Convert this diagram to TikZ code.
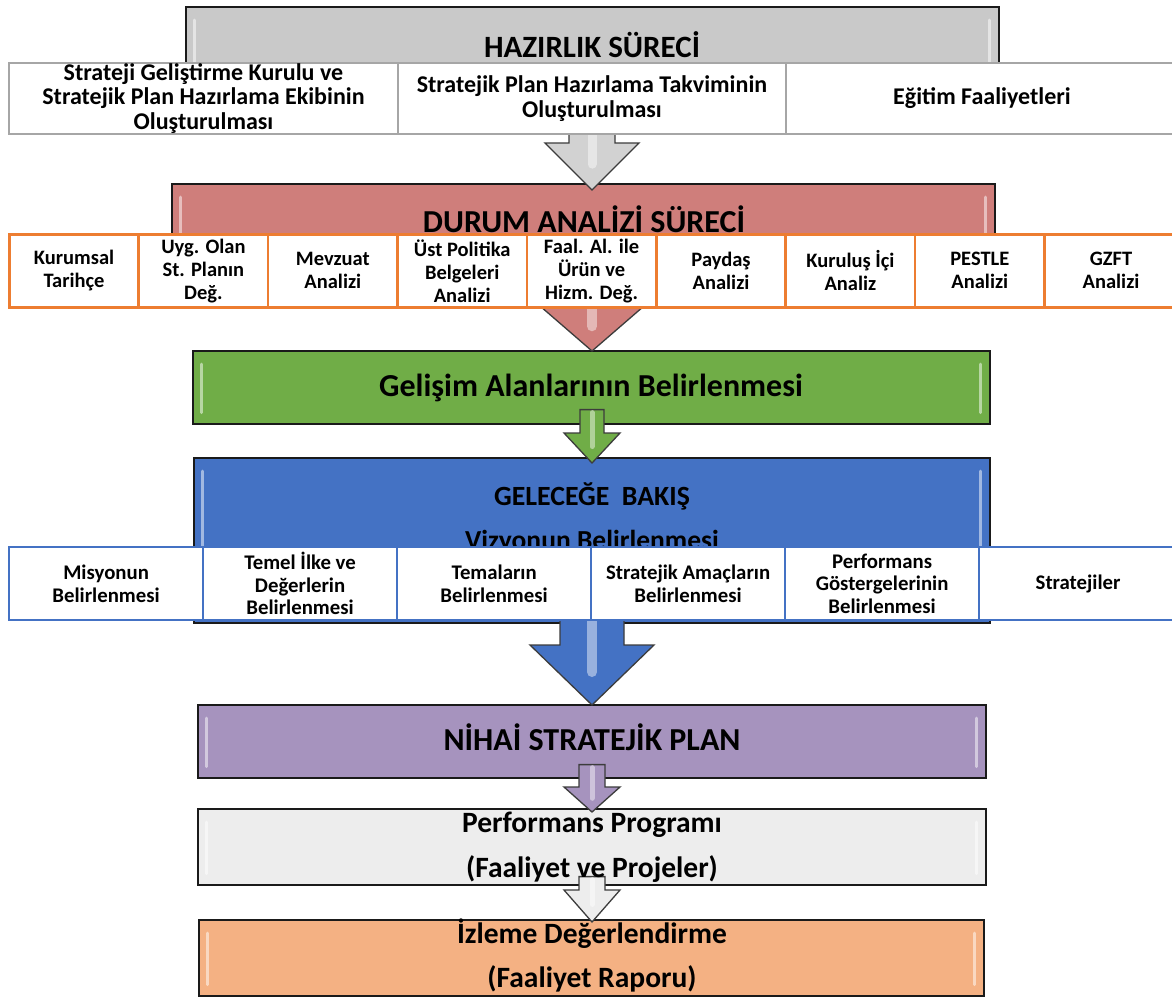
\documentclass[tikz,border=0pt]{standalone}
\usepackage{fontspec}
\setmainfont{Carlito}
\usetikzlibrary{calc}
\definecolor{hzgray}{HTML}{C9C9C9}
\definecolor{hzarrow}{HTML}{D2D2D2}
\definecolor{drred}{HTML}{CF7E7B}
\definecolor{grgreen}{HTML}{70AD47}
\definecolor{blblue}{HTML}{4472C4}
\definecolor{pupurple}{HTML}{A693BE}
\definecolor{whgray}{HTML}{EDEDED}
\definecolor{ororange}{HTML}{F4B183}
\definecolor{celltop}{HTML}{A6A6A6}
\definecolor{cellorange}{HTML}{ED7D31}
\definecolor{cellblue}{HTML}{4472C4}
\definecolor{boxedge}{HTML}{1A1A1A}
\tikzset{
 bigbox/.style={draw=boxedge, line width=1.6pt, inner sep=0pt, anchor=north west},
 bevel/.style={white, opacity=0.5, line width=3pt, line cap=round},
 barrow/.style={draw=boxedge!85, line width=1.3pt, line join=miter},
 stripe/.style={white, opacity=0.45, line cap=round},
 titletext/.style={font=\bfseries\fontsize{32}{36}\selectfont, inner sep=0pt, anchor=base},
 subtext/.style={font=\bfseries\fontsize{29.5}{33}\selectfont, inner sep=0pt, anchor=base},
 cell/.style={fill=white, inner sep=0pt, align=center, anchor=north west},
 topcell/.style={cell, draw=celltop, line width=2pt, minimum height=71pt, font=\bfseries\fontsize{24}{24.5}\selectfont},
 drcell/.style={cell, draw=cellorange, line width=2.6pt, minimum height=73pt, minimum width=129.4pt, font=\bfseries\fontsize{20.5}{23}\selectfont},
 blcell/.style={cell, draw=cellblue, line width=2.2pt, minimum height=73pt, minimum width=194pt, font=\bfseries\fontsize{20.8}{22.5}\selectfont},
}
\newcommand\bevelbox[1]{%
 \draw[bevel] ($(#1.north west)+(9,14)$) -- ($(#1.south west)+(9,-12)$);
 \draw[bevel] ($(#1.north east)+(-10,14)$) -- ($(#1.south east)+(-10,-12)$);}
\def\ax{592pt}
% #1 src, #2 dst, #3 shaft start above src.south, #4 tip below dst.north,
% #5 head length, #6 shaft half width, #7 head half width, #8 fill, #9 stripe width
\newcommand\blkarrow[9]{%
 \path[barrow, fill=#8] let \p1=(#1.south), \p2=(#2.north), \p3=(\ax,\y2-#4pt), \p4=(\ax,\y3+#5pt) in
  (\x3-#6pt,\y1+#3pt) -- (\x3+#6pt,\y1+#3pt) -- (\x3+#6pt,\y4) -- (\x3+#7pt,\y4) -- (\x3,\y3)
  -- (\x3-#7pt,\y4) -- (\x3-#6pt,\y4) -- cycle;
 \draw[stripe, line width=#9pt] let \p1=(#1.south), \p2=(#2.north), \p3=(\ax,\y2-#4pt) in
  (\x3,\y1+#3pt-3pt) -- (\x3,\y3+#5pt*0.55);}
\begin{document}
\begin{tikzpicture}[x=1pt,y=-1pt]
\useasboundingbox (0,0) rectangle (1172,996);
\fill[white] (0,0) rectangle (1172,996);
% big boxes
\node[bigbox, fill=hzgray, minimum width=813pt, minimum height=119pt] (hz) at (185,6) {};
\node[bigbox, fill=drred, minimum width=823pt, minimum height=107pt] (dr) at (171,183) {};
\node[bigbox, fill=grgreen, minimum width=797pt, minimum height=73pt] (gr) at (192,350) {};
\node[bigbox, fill=blblue, minimum width=796pt, minimum height=165pt] (bl) at (193,457) {};
\node[bigbox, fill=pupurple, minimum width=788pt, minimum height=73pt] (pu) at (197,704) {};
\node[bigbox, fill=whgray, minimum width=788pt, minimum height=76pt] (wh) at (197,808) {};
\node[bigbox, fill=ororange, minimum width=785pt, minimum height=76pt] (or) at (198,919) {};
\bevelbox{hz}\bevelbox{dr}\bevelbox{gr}\bevelbox{bl}\bevelbox{pu}\bevelbox{wh}\bevelbox{or}
% block arrows
\blkarrow{hz}{dr}{10}{7}{47}{23}{47}{hzarrow}{9}
\blkarrow{dr}{gr}{10}{1}{45}{27}{52}{drred}{10}
\blkarrow{gr}{bl}{15}{6}{30}{12}{28}{grgreen}{5}
\blkarrow{bl}{pu}{5}{1}{60}{32}{62}{blblue}{10}
\blkarrow{pu}{wh}{14}{4}{25}{13}{28}{pupurple}{5}
\blkarrow{wh}{or}{9}{3}{32}{13}{28}{whgray}{5}
% titles
\node[titletext, font=\bfseries\fontsize{31}{34}\selectfont] (hzt) at (592,57) {HAZIRLIK SÜRECİ};
\node[titletext] (drt) at (584,232) {DURUM ANALİZİ SÜRECİ};
\node[titletext] (grt) at (591,396) {Gelişim Alanlarının Belirlenmesi};
\node[subtext, font=\bfseries\fontsize{27.8}{32}\selectfont] (blt1) at (592,505) {GELECEĞE\ \ BAKIŞ};
\node[subtext, font=\bfseries\fontsize{27.5}{32}\selectfont] (blt2) at (592,549) {Vizyonun Belirlenmesi};
\node[titletext] (put) at (592,750) {NİHAİ STRATEJİK PLAN};
\node[subtext] (wht1) at (592,832) {Performans Programı};
\node[subtext] (wht2) at (592,877) {(Faaliyet ve Projeler)};
\node[subtext] (ort1) at (592,943) {İzleme Değerlendirme};
\node[subtext] (ort2) at (592,987) {(Faaliyet Raporu)};
% top row
\node[topcell, minimum width=389pt] (t1) at (8,62) {Strateji Geliştirme Kurulu ve\\Stratejik Plan Hazırlama Ekibinin\\Oluşturulması};
\node[topcell, minimum width=388pt] (t2) at (397,62) {Stratejik Plan Hazırlama Takviminin\\Oluşturulması};
\node[topcell, minimum width=392pt] (t3) at (785,62) {Eğitim Faaliyetleri};
% durum row
\node[drcell] (d1) at (8,233) {Kurumsal\\Tarihçe};
\node[drcell] (d2) at (137.4,233) {Uyg. Olan\\St. Planın\\Değ.};
\node[drcell] (d3) at (266.8,233) {Mevzuat\\Analizi};
\node[drcell] (d4) at (396.2,233) {Üst Politika\\Belgeleri\\Analizi};
\node[drcell] (d5) at (525.6,233) {Faal. Al. ile\\Ürün ve\\Hizm. Değ.};
\node[drcell] (d6) at (655,233) {Paydaş\\Analizi};
\node[drcell] (d7) at (784.4,233) {Kuruluş İçi\\Analiz};
\node[drcell] (d8) at (913.8,233) {PESTLE\\Analizi};
\node[drcell, minimum width=133pt] (d9) at (1043.2,233) {GZFT\\Analizi};
% blue row
\node[blcell] (b1) at (8,546) {Misyonun\\Belirlenmesi};
\node[blcell] (b2) at (202,546) {Temel İlke ve\\Değerlerin\\Belirlenmesi};
\node[blcell] (b3) at (396,546) {Temaların\\Belirlenmesi};
\node[blcell] (b4) at (590,546) {Stratejik Amaçların\\Belirlenmesi};
\node[blcell] (b5) at (784,546) {Performans\\Göstergelerinin\\Belirlenmesi};
\node[blcell, minimum width=198pt] (b6) at (978,546) {Stratejiler};
\end{tikzpicture}
\end{document}
